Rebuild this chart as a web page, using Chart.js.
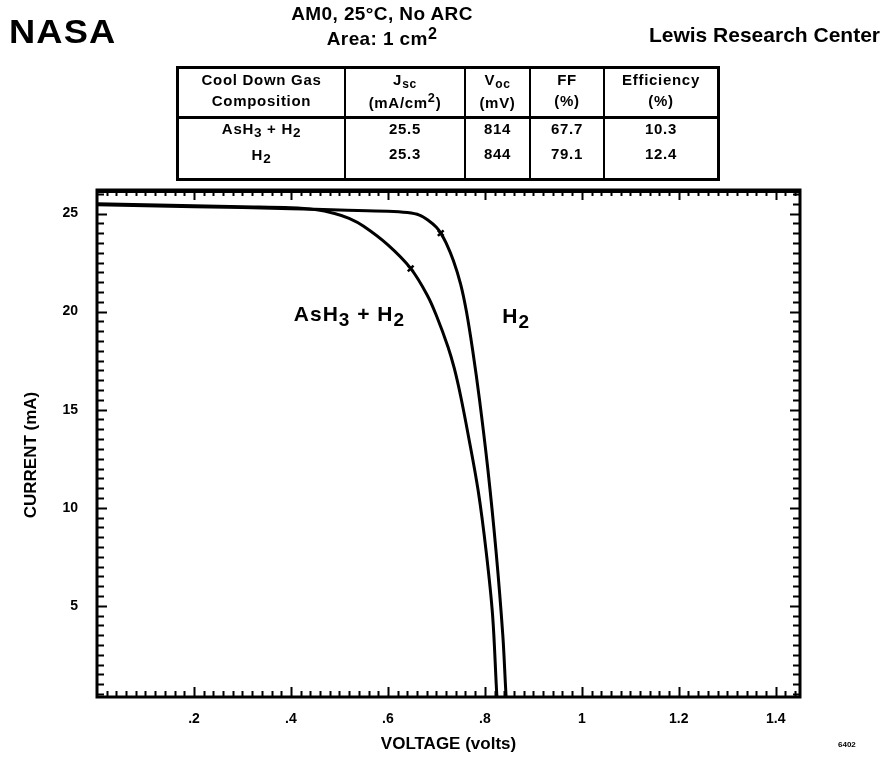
<!DOCTYPE html>
<html>
<head>
<meta charset="utf-8">
<title>AM0 I-V curves, cool down gas composition</title>
<script src="https://cdn.jsdelivr.net/npm/chart.js@4.4.0/dist/chart.umd.min.js"></script>
<style>
  body { margin: 0; background: #fff; color: #000; font-family: "Liberation Sans", Arial, sans-serif; font-weight: bold; }
  #wrap { position: relative; width: 885px; height: 758px; overflow: hidden; }
  #ivChart { position: absolute; left: 0; top: 0; }
  .logo { position: absolute; left: 9px; top: 13px; font-size: 33px; font-weight: 900; letter-spacing: 1px; transform: scaleX(1.1); transform-origin: left top; }
  .head { position: absolute; left: 270px; width: 224px; text-align: center; font-size: 19px; letter-spacing: 0.4px; }
  .lewis { position: absolute; right: 5px; top: 23px; font-size: 21px; }
  .code { position: absolute; left: 838px; top: 740px; font-size: 8px; }
  table { position: absolute; left: 176px; top: 66px; width: 544px; height: 115px; border-collapse: collapse; border: 3px solid #000; font-size: 15px; letter-spacing: 0.7px; table-layout: fixed; }
  td, th { text-align: center; border-left: 2px solid #000; padding: 0; vertical-align: top; overflow: hidden; }
  th { height: 47px; line-height: 21px; font-weight: bold; border-bottom: 3px solid #000; padding-top: 0px; }
  td { line-height: 25px; }
  td div { margin-top: -3px; }
  sub, sup { vertical-align: baseline; position: relative; }
  sub { font-size: 0.9em; top: 3px; }
  sub.s { font-size: 0.8em; top: 3px; }
  sup { font-size: 0.85em; top: -6px; }
</style>
</head>
<body>
<div id="wrap">
  <canvas id="ivChart" width="885" height="758"></canvas>
  <div class="logo">NASA</div>
  <div class="head" style="top:3px">AM0, 25°C, No ARC</div>
  <div class="head" style="top:28px">Area: 1 cm<sup>2</sup></div>
  <div class="lewis">Lewis Research Center</div>
  <table>
    <tr>
      <th style="width:165px">Cool Down Gas<br>Composition</th>
      <th style="width:118px">J<sub class="s">sc</sub><br>(mA/cm<sup>2</sup>)</th>
      <th style="width:63px">V<sub class="s">oc</sub><br>(mV)</th>
      <th style="width:72px">FF<br>(%)</th>
      <th>Efficiency<br>(%)</th>
    </tr>
    <tr>
      <td><div>AsH<sub>3</sub> + H<sub>2</sub><br>H<sub>2</sub></div></td>
      <td><div>25.5<br>25.3</div></td>
      <td><div>814<br>844</div></td>
      <td><div>67.7<br>79.1</div></td>
      <td><div>10.3<br>12.4</div></td>
    </tr>
  </table>
  <div class="code">6402</div>
</div>
<script>
// I-V curve, AsH3 + H2 cool down
var voltAsH3 = [0, 0.10, 0.20, 0.30, 0.40, 0.45, 0.49, 0.52, 0.55, 0.60, 0.647, 0.682, 0.70, 0.724, 0.737, 0.75, 0.765, 0.786, 0.803, 0.816, 0.825, 0.827];
var currAsH3 = [25.5, 25.45, 25.4, 25.35, 25.3, 25.2, 25.0, 24.75, 24.35, 23.4, 22.2, 20.8, 19.8, 18.2, 17.1, 15.7, 13.8, 10.9, 7.7, 4.5, 0.3, 0];

// I-V curve, H2 cool down
var voltH2 = [0, 0.20, 0.40, 0.50, 0.60, 0.64, 0.665, 0.685, 0.70, 0.709, 0.72, 0.735, 0.75, 0.762, 0.775, 0.789, 0.806, 0.823, 0.837, 0.844, 0.846];
var currH2 = [25.45, 25.35, 25.25, 25.18, 25.12, 25.05, 24.92, 24.62, 24.3, 24.0, 23.5, 22.6, 21.4, 20.0, 18.0, 15.5, 12.0, 7.8, 3.5, 0.3, 0];

// max power points (cross marks)
var mppVolt = [0.647, 0.709];
var mppCurr = [22.2, 24.0];

var seriesNames = ['AsH3 + H2', 'H2'];

var xTickValues = [0.2, 0.4, 0.6, 0.8, 1.0, 1.2, 1.4];
var xTickLabels = ['.2', '.4', '.6', '.8', '1', '1.2', '1.4'];
var yTickValues = [5, 10, 15, 20, 25];
var yTickLabels = ['5', '10', '15', '20', '25'];

var FONT = '"Liberation Sans", Arial, sans-serif';

function toPoints(xs, ys) {
    return xs.map(function (v, i) { return { x: v, y: ys[i] }; });
}

// text with subscripts, parts = [[text, isSub], ...]
function drawChem(ctx, parts, x, y) {
    var cx = x;
    ctx.letterSpacing = '1px';
    parts.forEach(function (p) {
        ctx.font = 'bold ' + (p[1] ? 19 : 21) + 'px ' + FONT;
        ctx.fillText(p[0], cx, y + (p[1] ? 5 : 0));
        cx += ctx.measureText(p[0]).width;
    });
    ctx.letterSpacing = '0px';
}

var framePlugin = {
    id: 'frame',
    afterDatasetsDraw: function (chart) {
        var ctx = chart.ctx, a = chart.chartArea;
        var x = chart.scales.x, y = chart.scales.y;
        ctx.save();
        ctx.strokeStyle = '#000';
        ctx.lineWidth = 2;
        ctx.beginPath();
        // ticks on bottom and top, every .02
        for (var i = 1; i * 0.02 < x.max; i++) {
            var px = Math.round(x.getPixelForValue(i * 0.02)) + 0.5;
            var len = i % 10 === 0 ? 10 : 6;
            ctx.moveTo(px, a.bottom); ctx.lineTo(px, a.bottom - len);
            ctx.moveTo(px, a.top); ctx.lineTo(px, a.top + len);
        }
        // ticks on left and right, every .5
        for (var j = 1; j * 0.5 < y.max; j++) {
            if (j * 0.5 < y.min) continue;
            var py = Math.round(y.getPixelForValue(j * 0.5)) + 0.5;
            var l2 = j % 10 === 0 ? 10 : 7;
            ctx.moveTo(a.left, py); ctx.lineTo(a.left + l2, py);
            ctx.moveTo(a.right, py); ctx.lineTo(a.right - l2, py);
        }
        ctx.stroke();
        ctx.lineWidth = 3;
        ctx.strokeRect(a.left, a.top, a.right - a.left, a.bottom - a.top);
        // heavier top edge, as on the original print
        ctx.fillStyle = '#000';
        ctx.fillRect(a.left, a.top - 1, a.right - a.left, 4);

        // curve labels
        ctx.textBaseline = 'middle';
        ctx.textAlign = 'left';
        drawChem(ctx, [['AsH', 0], ['3', 1], [' + H', 0], ['2', 1]], x.getPixelForValue(0.406), y.getPixelForValue(19.8));
        drawChem(ctx, [['H', 0], ['2', 1]], x.getPixelForValue(0.836), y.getPixelForValue(19.7));

        // y axis title
        ctx.translate(31, 455);
        ctx.rotate(-Math.PI / 2);
        ctx.textAlign = 'center';
        ctx.font = 'bold 17px ' + FONT;
        ctx.fillText('CURRENT (mA)', 0, 0);
        ctx.restore();
    }
};

document.addEventListener('DOMContentLoaded', function () {
    var ivCanvas = document.getElementById('ivChart').getContext('2d');
    var curveStyle = {
        showLine: true,
        borderColor: '#000',
        borderWidth: 3,
        pointRadius: 0,
        tension: 0.35
    };
    var ivChart = new Chart(ivCanvas, {
        type: 'scatter',
        data: {
            datasets: [
                Object.assign({ label: seriesNames[0], data: toPoints(voltAsH3, currAsH3) }, curveStyle),
                Object.assign({ label: seriesNames[1], data: toPoints(voltH2, currH2) }, curveStyle),
                {
                    label: 'Max power',
                    data: toPoints(mppVolt, mppCurr),
                    showLine: false,
                    pointStyle: 'crossRot',
                    pointRadius: 4,
                    borderColor: '#000',
                    borderWidth: 2.5
                }
            ]
        },
        options: {
            responsive: false,
            animation: false,
            layout: { padding: { top: 190, right: 85, left: 0, bottom: 0 } },
            plugins: {
                legend: { display: false },
                tooltip: { enabled: false }
            },
            scales: {
                x: {
                    type: 'linear',
                    min: 0,
                    max: 1.45,
                    grid: { display: false },
                    border: { display: false },
                    afterBuildTicks: function (s) { s.ticks = xTickValues.map(function (v) { return { value: v }; }); },
                    afterFit: function (s) { s.height = 61; },
                    ticks: {
                        autoSkip: false,
                        maxRotation: 0,
                        padding: 6,
                        color: '#000',
                        font: { family: FONT, size: 14, weight: 'bold' },
                        callback: function (v, i) { return xTickLabels[i]; }
                    },
                    title: {
                        display: true,
                        text: 'VOLTAGE (volts)',
                        color: '#000',
                        padding: { top: 3, bottom: 3 },
                        font: { family: FONT, size: 17, weight: 'bold' }
                    }
                },
                y: {
                    type: 'linear',
                    min: 0.35,
                    max: 26.2,
                    grid: { display: false },
                    border: { display: false },
                    afterBuildTicks: function (s) { s.ticks = yTickValues.map(function (v) { return { value: v }; }); },
                    afterFit: function (s) { s.width = 97; },
                    ticks: {
                        autoSkip: false,
                        padding: 11,
                        color: '#000',
                        font: { family: FONT, size: 14, weight: 'bold' },
                        callback: function (v, i) { return yTickLabels[i]; }
                    }
                }
            }
        },
        plugins: [framePlugin]
    });
});
</script>
</body>
</html>
